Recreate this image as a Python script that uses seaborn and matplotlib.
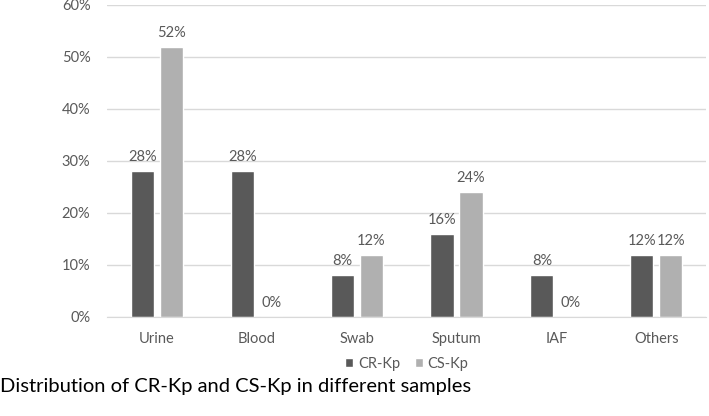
import pandas as pd
import numpy as np
import matplotlib.pyplot as plt
import seaborn as sns
from matplotlib.ticker import FuncFormatter

samples = ['Urine', 'Blood', 'Swab', 'Sputum', 'IAF', 'Others']
cr_kp = [28, 28, 8, 16, 8, 12]
cs_kp = [52, 0, 12, 24, 0, 12]
groups = ['CR-Kp', 'CS-Kp']
colores = ['#595959', '#B0B0B0']

df = pd.DataFrame({
    'sample': samples * 2,
    'pct': cr_kp + cs_kp,
    'grupo': [groups[0]] * len(samples) + [groups[1]] * len(samples),
})

sns.set_style('white')
plt.rcParams['font.family'] = ['Lato', 'DejaVu Sans']
texto = '#595959'

fig = plt.figure(figsize=(7.09, 4.16), dpi=100)
ax = fig.add_axes([0.151, 0.238, 0.845, 0.75])

sns.barplot(data=df, x='sample', y='pct', hue='grupo', palette=colores,
            width=0.58, gap=0.2, ax=ax, saturation=1)

for cont in ax.containers:
    ax.bar_label(cont, fmt='%d%%', padding=5, color=texto, fontsize=10.5)

ax.set_ylim(0, 60)
ax.set_yticks(np.arange(0, 61, 10))
ax.yaxis.set_major_formatter(FuncFormatter(lambda v, p: f'{int(v)}%'))
ax.grid(axis='y', color='#D9D9D9', linewidth=1)
ax.set_axisbelow(True)
for s in ['top', 'right', 'left']:
    ax.spines[s].set_visible(False)
ax.spines['bottom'].set_color('#D9D9D9')
ax.tick_params(axis='both', colors=texto, labelsize=10.5, length=0)
ax.tick_params(axis='x', pad=11)
ax.tick_params(axis='y', pad=12)
ax.set_xlabel('')
ax.set_ylabel('')

ax.legend(loc='center', bbox_to_anchor=(0.5, -0.15), ncol=2, frameon=False,
          fontsize=10.5, labelcolor=texto, handlelength=0.6, handleheight=0.6,
          handletextpad=0.3, columnspacing=1.0)

fig.text(0.0, 0.071, 'Distribution of CR-Kp and CS-Kp in different samples',
         fontsize=14.5, color='black', va='center')

fig.savefig('out.png', dpi=100)
